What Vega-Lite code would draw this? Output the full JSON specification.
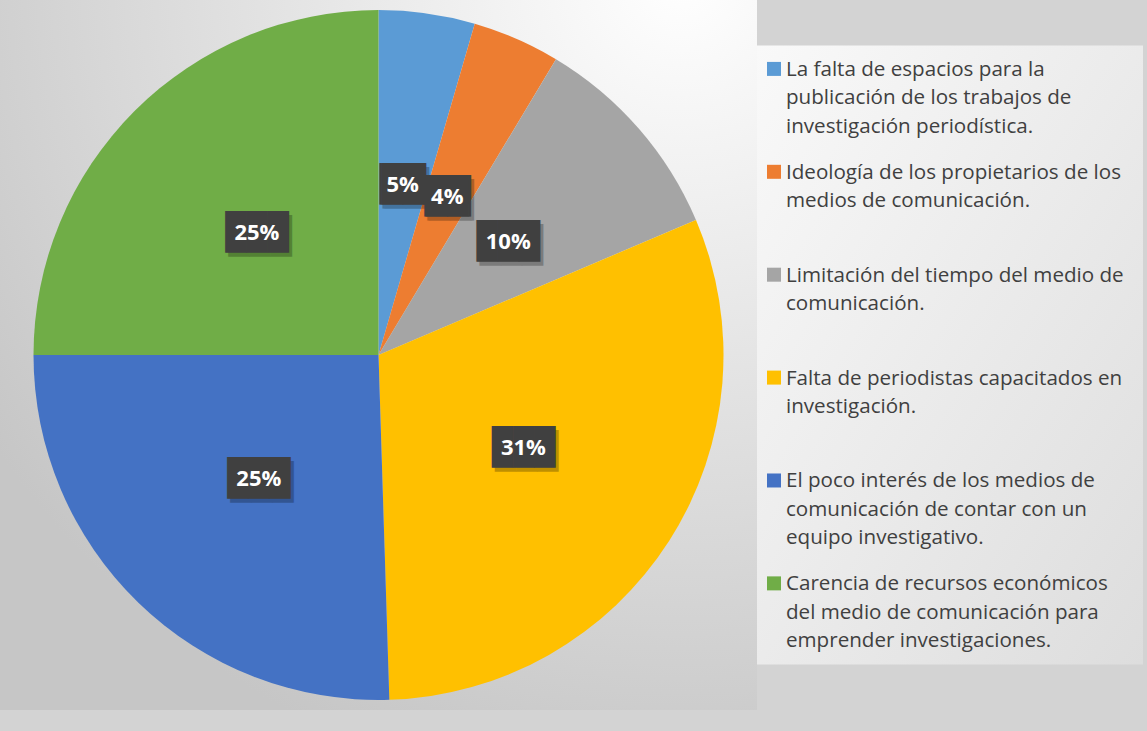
{
  "$schema": "https://vega.github.io/schema/vega-lite/v6.json",
  "background": "#d3d3d3",
  "padding": {"left": 0, "top": 0, "right": 4, "bottom": 21},
  "spacing": 0,
  "center": true,
  "config": {"view": {"stroke": null}},
  "datasets": {
    "slices": [
      {"idx": 1, "legend": "La falta de espacios para la\npublicación de los trabajos de\ninvestigación periodística.", "value": 4.5, "label": "5%"},
      {"idx": 2, "legend": "Ideología de los propietarios de los\nmedios de comunicación.", "value": 4.1, "label": "4%"},
      {"idx": 3, "legend": "Limitación del tiempo del medio de\ncomunicación.", "value": 10.0, "label": "10%"},
      {"idx": 4, "legend": "Falta de periodistas capacitados en\ninvestigación.", "value": 30.9, "label": "31%"},
      {"idx": 5, "legend": "El poco interés de los medios de\ncomunicación de contar con un\nequipo investigativo.", "value": 25.5, "label": "25%"},
      {"idx": 6, "legend": "Carencia de recursos económicos\ndel medio de comunicación para\nemprender investigaciones.", "value": 25.0, "label": "25%"}
    ]
  },
  "hconcat": [
    {
      "width": 757,
      "height": 710,
      "view": {"fill": {"gradient": "radial", "x1": 0.9, "y1": 0, "r1": 0, "x2": 0.9, "y2": 0, "r2": 1.1, "stops": [{"offset": 0, "color": "#ffffff"}, {"offset": 1, "color": "#c6c6c6"}]}},
      "data": {"name": "slices"},
      "encoding": {
        "theta": {"field": "value", "type": "quantitative", "stack": true},
        "order": {"field": "idx", "type": "quantitative"}
      },
      "layer": [
        {
          "mark": {"type": "arc", "outerRadius": 345},
          "encoding": {
            "color": {"field": "legend", "type": "nominal", "legend": null,
              "scale": {"domain": [
                "La falta de espacios para la\npublicación de los trabajos de\ninvestigación periodística.",
                "Ideología de los propietarios de los\nmedios de comunicación.",
                "Limitación del tiempo del medio de\ncomunicación.",
                "Falta de periodistas capacitados en\ninvestigación.",
                "El poco interés de los medios de\ncomunicación de contar con un\nequipo investigativo.",
                "Carencia de recursos económicos\ndel medio de comunicación para\nemprender investigaciones."
              ], "range": ["#5B9BD5", "#ED7D31", "#A5A5A5", "#FFC000", "#4472C4", "#70AD47"]}}
          }
        },
        {
          "mark": {"type": "text", "radius": 172, "dx": 3, "dy": 4, "font": "DejaVu Sans Mono", "fontSize": 35, "baseline": "middle", "fill": "#000000", "opacity": 0.25},
          "encoding": {
            "detail": {"field": "legend", "type": "nominal"},
            "text": {"condition": {"test": "length(datum.label) == 2", "value": "▕██▏"}, "value": "███"}
          }
        },
        {
          "mark": {"type": "text", "radius": 172, "font": "DejaVu Sans Mono", "fontSize": 35, "baseline": "middle", "fill": "#404040"},
          "encoding": {
            "detail": {"field": "legend", "type": "nominal"},
            "text": {"condition": {"test": "length(datum.label) == 2", "value": "▕██▏"}, "value": "███"}
          }
        },
        {
          "mark": {"type": "text", "radius": 172, "font": "Open Sans", "fontWeight": "bold", "fontSize": 22, "baseline": "middle", "fill": "#ffffff"},
          "encoding": {
            "detail": {"field": "legend", "type": "nominal"},
            "text": {"field": "label", "type": "nominal"}
          }
        }
      ]
    },
    {
      "width": 386,
      "height": 619,
      "view": {"fill": {"gradient": "linear", "x1": 0, "y1": 0, "x2": 1, "y2": 1, "stops": [{"offset": 0, "color": "#f9f9f9"}, {"offset": 1, "color": "#dddddd"}]}},
      "data": {"name": "slices"},
      "encoding": {
        "y": {"field": "legend", "type": "nominal", "sort": {"field": "idx", "op": "min"}, "scale": {"type": "point", "padding": 0.508, "align": 0.224}, "axis": null},
        "x": {"datum": 0.044, "type": "quantitative", "scale": {"domain": [0, 1]}, "axis": null}
      },
      "layer": [
        {
          "mark": {"type": "point", "shape": "square", "filled": true, "size": 196, "opacity": 1},
          "encoding": {"color": {"field": "legend", "type": "nominal", "legend": null}}
        },
        {
          "mark": {"type": "text", "align": "left", "baseline": "alphabetic", "dx": 12, "dy": 7, "font": "Open Sans", "fontSize": 20.6, "lineHeight": 28.5, "lineBreak": "\n", "fill": "#404040"},
          "encoding": {"text": {"field": "legend", "type": "nominal"}}
        }
      ]
    }
  ]
}
